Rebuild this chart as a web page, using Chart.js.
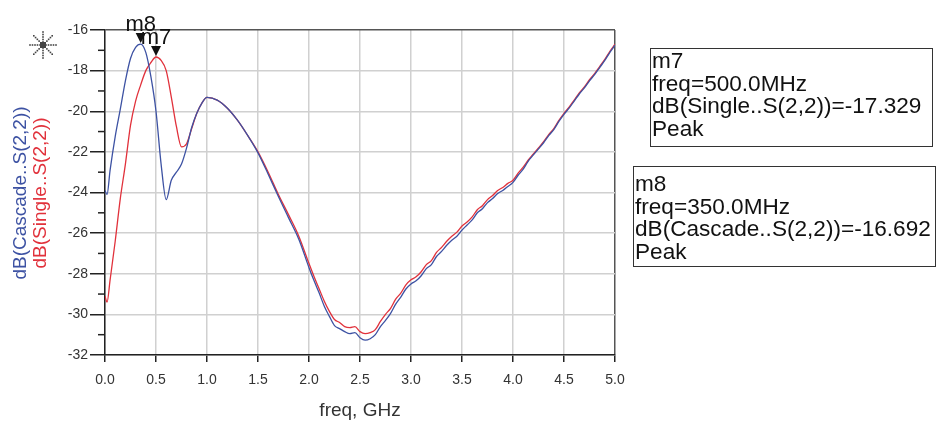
<!DOCTYPE html>
<html>
<head>
<meta charset="utf-8">
<script src="https://cdn.jsdelivr.net/npm/chart.js@4/dist/chart.umd.min.js"></script>
<style>
  body { margin: 0; background: #fff; }
  #wrap { position: relative; width: 944px; height: 429px; }
  .mbox {
    position: absolute;
    border: 1.5px solid #333;
    font-family: "Liberation Sans", Arial, sans-serif;
    font-size: 22.6px;
    line-height: 22.7px;
    color: #111;
    padding-left: 1px;
    box-sizing: border-box;
    white-space: nowrap;
  }
</style>
</head>
<body>
<div id="wrap">
  <canvas id="myChart" width="944" height="429"></canvas>
  <div class="mbox" style="left:650px; top:48px; width:283px; height:99px; padding-top:1px;">m7<br>freq=500.0MHz<br>dB(Single..S(2,2))=-17.329<br>Peak</div>
  <div class="mbox" style="left:633px; top:166px; width:303px; height:101px; padding-top:6px;">m8<br>freq=350.0MHz<br>dB(Cascade..S(2,2))=-16.692<br>Peak</div>
</div>
<script>

//------------------------------------------------------------------
// data (freq in GHz, values in dB)

var freq = [
    0, 0.02, 0.05, 0.1, 0.15, 0.2, 0.25, 0.3, 0.35, 0.4, 0.45, 0.5,
    0.55, 0.6, 0.65, 0.7, 0.75, 0.8, 0.85, 0.9, 0.95, 1.0,
    1.1, 1.2, 1.3, 1.4, 1.5, 1.6, 1.7, 1.8, 1.9, 2.0,
    2.05, 2.1, 2.15, 2.2, 2.25, 2.3, 2.35, 2.4, 2.45, 2.5,
    2.55, 2.6, 2.65, 2.7, 2.75, 2.8, 2.85, 2.9, 2.95, 3.0,
    3.05, 3.1, 3.15, 3.2, 3.25, 3.3, 3.35, 3.4, 3.45, 3.5,
    3.55, 3.6, 3.65, 3.7, 3.75, 3.8, 3.85, 3.9, 3.95, 4.0,
    4.05, 4.1, 4.15, 4.2, 4.25, 4.3, 4.35, 4.4, 4.45, 4.5,
    4.55, 4.6, 4.65, 4.7, 4.75, 4.8, 4.85, 4.9, 4.95, 5.0
];

var cascade_s22 = [
    -23.9, -24.1, -22.9, -21.25, -19.9, -18.5, -17.4, -16.85, -16.692, -17.1, -18.3, -20.0,
    -22.6, -24.35, -23.4, -23.0, -22.6, -21.8, -20.8, -20.1, -19.6, -19.32,
    -19.45, -19.85, -20.45, -21.2, -22.05, -23.1, -24.2, -25.25, -26.3, -27.7,
    -28.35, -28.95, -29.6, -30.1, -30.55, -30.7, -30.85, -30.95, -30.9, -31.15,
    -31.27, -31.2, -31.0, -30.6, -30.3, -29.95, -29.5, -29.15, -28.75, -28.5,
    -28.35, -28.1, -27.75, -27.55, -27.15, -26.9, -26.6, -26.35, -26.15, -25.85,
    -25.6, -25.35, -25.0, -24.8, -24.5, -24.3, -24.05, -23.9, -23.7, -23.5,
    -23.15, -22.85, -22.45, -22.15, -21.85, -21.55, -21.2, -20.9, -20.5, -20.15,
    -19.85, -19.5, -19.15, -18.85, -18.5, -18.2, -17.85, -17.5, -17.1, -16.75
];

var single_s22 = [
    -29.1, -29.4, -28.3, -26.4, -24.3, -22.6, -20.7, -19.5, -18.7, -18.0, -17.6, -17.329,
    -17.5, -18.0, -19.3, -20.75, -21.75, -21.6, -20.85, -20.1, -19.6, -19.32,
    -19.45, -19.85, -20.45, -21.2, -22.0, -23.0, -24.1, -25.1, -26.15, -27.5,
    -28.15, -28.75, -29.35, -29.85, -30.25, -30.4, -30.6, -30.65, -30.6, -30.85,
    -30.95, -30.9, -30.75, -30.35, -30.0, -29.7, -29.25, -28.95, -28.55, -28.3,
    -28.15, -27.9, -27.55, -27.35, -26.95, -26.7, -26.4, -26.15, -25.95, -25.65,
    -25.45, -25.2, -24.85, -24.65, -24.35, -24.15, -23.9, -23.75, -23.55, -23.4,
    -23.05, -22.75, -22.4, -22.1, -21.8, -21.5, -21.15, -20.85, -20.45, -20.1,
    -19.8, -19.45, -19.1, -18.8, -18.45, -18.15, -17.8, -17.45, -17.05, -16.7
];

// markers: name, freq, value
var marker_names = ["m8", "m7"];
var marker_freq = [0.35, 0.5];
var marker_value = [-16.692, -17.329];

var y_title_lines = ["dB(Cascade..S(2,2))", "dB(Single..S(2,2))"];
var x_title = "freq, GHz";

var col_blue = "#3d52a3";
var col_red = "#e1313b";

//------------------------------------------------------------------

function pairs(xs, ys){
    let out = [];
    for (let i = 0; i < xs.length; i++) {
        out.push({x: xs[i], y: ys[i]});
    }
    return out;
}

const extras = {
    id: "extras",
    afterDraw(chart){
        const c = chart.ctx;
        const xs = chart.scales.x;
        const ys = chart.scales.y;
        const area = chart.chartArea;

        // minor ticks on y axis
        c.save();
        c.strokeStyle = "#222";
        c.lineWidth = 1.5;
        for (let v = -31; v < -16; v += 2) {
            let py = ys.getPixelForValue(v);
            c.beginPath();
            c.moveTo(area.left - 7, py);
            c.lineTo(area.left, py);
            c.stroke();
        }

        // markers
        c.fillStyle = "#111";
        c.font = "22px 'Liberation Sans', Arial, sans-serif";
        c.textAlign = "center";
        c.textBaseline = "alphabetic";
        for (let i = 0; i < marker_names.length; i++) {
            let px = xs.getPixelForValue(marker_freq[i]);
            let py = ys.getPixelForValue(marker_value[i]);
            let tip = py - 1;
            c.beginPath();
            c.moveTo(px, tip);
            c.lineTo(px - 5, tip - 10);
            c.lineTo(px + 5, tip - 10);
            c.closePath();
            c.fill();
            c.fillText(marker_names[i], px, tip - 12);
        }

        // axis titles
        c.font = "19px 'Liberation Sans', Arial, sans-serif";
        c.fillStyle = "#333";
        c.textBaseline = "middle";
        c.fillText(x_title, 360, 411);

        c.font = "19px 'Liberation Sans', Arial, sans-serif";
        c.translate(0, 193);
        c.rotate(-Math.PI / 2);
        c.fillStyle = col_blue;
        c.fillText(y_title_lines[0], 0, 21);
        c.fillStyle = col_red;
        c.fillText(y_title_lines[1], 0, 41);
        c.restore();

        // little dotted star icon
        c.save();
        c.fillStyle = "#444";
        for (let k = 0; k < 8; k++) {
            let a = k * Math.PI / 4;
            for (let r = 3; r <= 13; r += 2.5) {
                c.fillRect(43 + Math.cos(a) * r - 0.8, 45 + Math.sin(a) * r - 0.8, 1.6, 1.6);
            }
        }
        c.fillRect(40, 42, 6, 6);
        c.restore();
    }
};

const ctx = document.getElementById("myChart");

const sparam_chart = new Chart(ctx, {
    type: "line",
    data: {
        datasets: [
            {
                label: y_title_lines[0],
                data: pairs(freq, cascade_s22),
                borderColor: col_blue,
                borderWidth: 1.3,
                pointRadius: 0,
                cubicInterpolationMode: "monotone"
            },
            {
                label: y_title_lines[1],
                data: pairs(freq, single_s22),
                borderColor: col_red,
                borderWidth: 1.3,
                pointRadius: 0,
                cubicInterpolationMode: "monotone"
            }
        ]
    },
    options: {
        responsive: false,
        animation: false,
        devicePixelRatio: 1,
        layout: { padding: { left: 0, right: 329, top: 30, bottom: 0 } },
        plugins: { legend: { display: false }, tooltip: { enabled: false } },
        scales: {
            x: {
                type: "linear",
                min: 0,
                max: 5,
                afterFit: function(s){ s.height = 74; },
                ticks: {
                    stepSize: 0.5,
                    padding: 10,
                    color: "#333",
                    font: { family: "'Liberation Sans', Arial, sans-serif", size: 14 },
                    callback: function(v){ return v.toFixed(1); }
                },
                grid: {
                    color: function(c){ return c.tick && c.tick.value == 5 ? "#555" : "#d0d0d0"; },
                    lineWidth: 1.5,
                    tickLength: 7,
                    tickColor: "#222"
                },
                border: { color: "#222", width: 1.5 }
            },
            y: {
                min: -32,
                max: -16,
                afterFit: function(s){ s.width = 105; },
                ticks: {
                    stepSize: 2,
                    padding: 2,
                    color: "#333",
                    font: { family: "'Liberation Sans', Arial, sans-serif", size: 14 },
                    callback: function(v){ return v; }
                },
                grid: {
                    color: function(c){ return c.tick && c.tick.value == -16 ? "#555" : "#d0d0d0"; },
                    lineWidth: 1.5,
                    tickLength: 15,
                    tickColor: "#222"
                },
                border: { color: "#222", width: 1.5 }
            }
        }
    },
    plugins: [extras]
});

</script>
</body>
</html>
